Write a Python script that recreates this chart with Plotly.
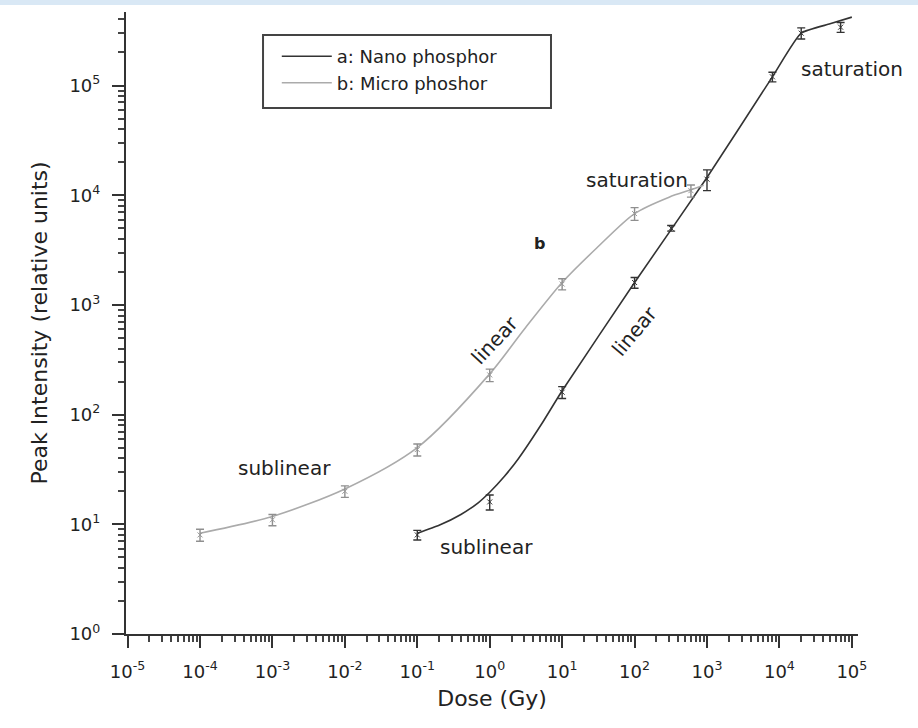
import numpy as np
import plotly.graph_objects as go

# ---- a: Nano phosphor -------------------------------------------------
dose_a = [1e-1, 1e0, 1e1, 1e2, 3.2e2, 1e3, 8e3, 2e4, 7e4]
peak_a = [8, 16, 160, 1600, 5000, 14000, 120000, 300000, 340000]
err_a = [0.8, 2.5, 20, 180, 300, 3000, 12000, 35000, 35000]

fit_dose_a = [1e-1, 2e-1, 4e-1, 7e-1, 1e0, 1.6e0, 2.5e0, 5.2e0, 1e1, 1e2, 1e3, 8e3, 2e4, 5e4, 1e5]
fit_peak_a = [8.3, 9.8, 12.3, 15.8, 19.6, 27.4, 39.8, 82, 165, 1600, 14500, 120000, 300000, 365000, 420000]

# ---- b: Micro phoshor --------------------------------------------------
dose_b = [1e-4, 1e-3, 1e-2, 1e-1, 1e0, 1e1, 1e2, 6e2]
peak_b = [8, 11, 20, 48, 230, 1550, 6800, 11000]
err_b = [1, 1.3, 2.4, 6, 30, 180, 900, 1400]

fit_dose_b = [1e-4, 1e-3, 1e-2, 1e-1, 1e0, 3e0, 1e1, 3e1, 1e2, 3e2, 6e2, 9e2]
fit_peak_b = [8.3, 11.8, 21, 50, 235, 600, 1600, 3300, 6800, 9600, 11200, 12300]

# ---- axis ticks ------------------------------------------------------
x_exponents = list(range(-5, 6))
y_exponents = list(range(0, 6))
x_ticklabels = ["10<sup>%d</sup>" % e for e in x_exponents]
y_ticklabels = ["10<sup>%d</sup>" % e for e in y_exponents]

# ---- text labels: (text, dose, intensity, angle, anchor, bold) ---------
region_labels = [
    ("saturation", 10 ** 5.0, 10 ** 5.15, 0, "center", False),
    ("saturation", 10 ** 2.04, 10 ** 4.14, 0, "center", False),
    ("b", 10 ** 0.69, 10 ** 3.56, 0, "center", True),
    ("linear", 10 ** 0.07, 10 ** 2.68, -47, "center", False),
    ("linear", 10 ** 2.00, 10 ** 2.76, -50, "center", False),
    ("sublinear", 10 ** -2.83, 10 ** 1.51, 0, "center", False),
    ("sublinear", 10 ** -0.05, 10 ** 0.795, 0, "center", False),
]

FONT = "DejaVu Sans"
DARK = "#333333"
LIGHT = "#ababab"

fig = go.Figure()

fig.add_trace(go.Scatter(
    x=fit_dose_a, y=fit_peak_a, mode="lines", name="a: Nano phosphor",
    line=dict(color=DARK, width=1.6, shape="spline", smoothing=0.5),
))
fig.add_trace(go.Scatter(
    x=fit_dose_b, y=fit_peak_b, mode="lines", name="b: Micro phoshor",
    line=dict(color=LIGHT, width=1.6, shape="spline", smoothing=0.8),
))
fig.add_trace(go.Scatter(
    x=dose_a, y=peak_a, mode="markers", showlegend=False,
    marker=dict(symbol="x-thin", size=5, line=dict(color=DARK, width=1)),
    error_y=dict(type="data", array=err_a, color=DARK, thickness=1.4, width=4),
))
fig.add_trace(go.Scatter(
    x=dose_b, y=peak_b, mode="markers", showlegend=False,
    marker=dict(symbol="x-thin", size=5, line=dict(color="#999999", width=1)),
    error_y=dict(type="data", array=err_b, color="#8f8f8f", thickness=1.4, width=4),
))

for text, xd, yd, ang, anc, bold in region_labels:
    fig.add_annotation(
        x=np.log10(xd), y=np.log10(yd),
        text="<b>%s</b>" % text if bold else text, showarrow=False,
        textangle=ang, xanchor=anc,
        font=dict(family=FONT, size=16 if bold else 20, color="#222222"),
    )

axis_common = dict(
    type="log", showgrid=False, zeroline=False, showline=True,
    linecolor=DARK, linewidth=2.2, ticks="outside", ticklen=12, tickwidth=2,
    tickcolor=DARK, mirror=False,
    tickfont=dict(family=FONT, size=18, color="#222222"),
    minor=dict(ticks="outside", ticklen=6, tickwidth=1.5, tickcolor="#444444", dtick="D1"),
)

fig.update_xaxes(
    **axis_common, range=[-5.022, 5.085],
    tickvals=[10.0 ** e for e in x_exponents], ticktext=x_ticklabels,
    ticklabelstandoff=8,
    title=dict(text="Dose (Gy)", font=dict(family=FONT, size=22, color="#222222"), standoff=10),
)
fig.update_yaxes(
    **axis_common, range=[0, 5.67],
    tickvals=[10.0 ** e for e in y_exponents], ticktext=y_ticklabels,
    ticklabelstandoff=8,
    title=dict(text="Peak Intensity (relative units)", font=dict(family=FONT, size=22, color="#222222"), standoff=16),
)

# legend frame and a pale strip across the top edge
fig.add_shape(type="rect", xref="paper", yref="paper",
              x0=0.1872, x1=0.5806, y0=0.8457, y1=0.963,
              line=dict(color="#444444", width=2), fillcolor="rgba(0,0,0,0)")
fig.add_shape(type="rect", xref="paper", yref="paper",
              x0=-126 / 732, x1=1 + 60 / 732, y0=1 + 7 / 622, y1=1 + 12 / 622,
              line=dict(width=0), fillcolor="#d9e8f5", layer="below")

fig.update_layout(
    width=918, height=728,
    margin=dict(l=126, r=60, t=12, b=94),
    paper_bgcolor="white", plot_bgcolor="white",
    font=dict(family=FONT, color="#222222"),
    legend=dict(x=0.206, y=0.958, xanchor="left", yanchor="top",
                bgcolor="rgba(0,0,0,0)", borderwidth=0, itemwidth=50,
                font=dict(family=FONT, size=18, color="#222222")),
)

fig.write_html("out.html")
